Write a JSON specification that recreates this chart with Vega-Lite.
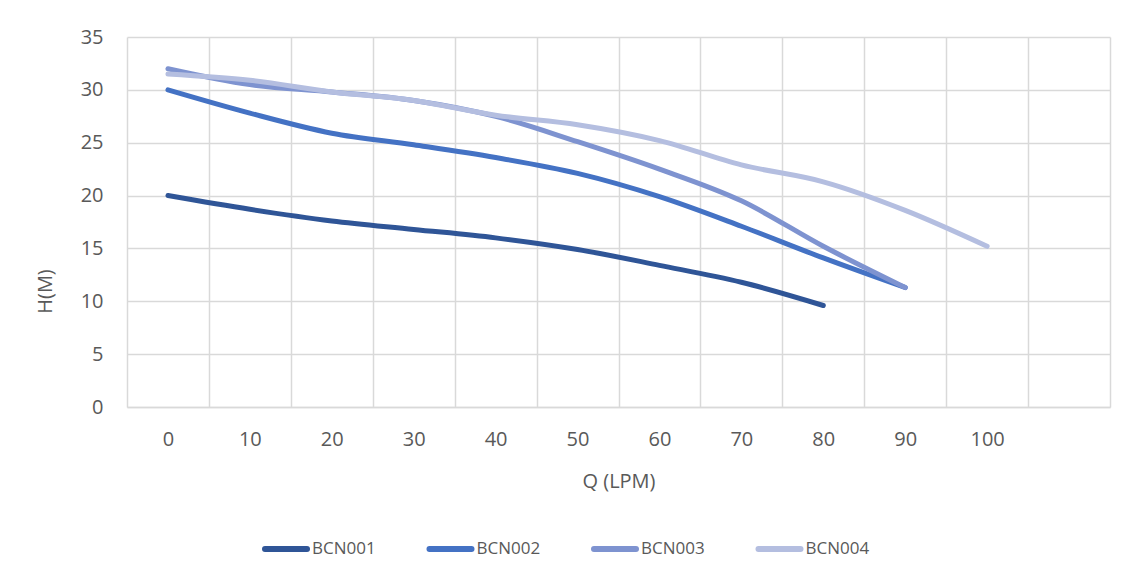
{
  "$schema": "https://vega.github.io/schema/vega-lite/v6.json",
  "autosize": {"type": "none"},
  "padding": {"left": 127, "top": 37, "right": 20, "bottom": 174},
  "width": 983,
  "height": 370,
  "background": "white",
  "config": {
    "font": "Open Sans",
    "view": {"stroke": null},
    "axis": {"labelColor": "#595959", "titleColor": "#595959", "gridColor": "#D9D9D9", "gridWidth": 1.5, "labelFont": "Open Sans", "titleFont": "Open Sans", "labelFontSize": 20, "titleFontSize": 20, "titleFontWeight": "normal"}
  },
  "data": {
    "values": [
      {"series": "BCN001", "Q": 0, "H": 20.0},
      {"series": "BCN001", "Q": 10, "H": 18.7},
      {"series": "BCN001", "Q": 20, "H": 17.6},
      {"series": "BCN001", "Q": 30, "H": 16.8},
      {"series": "BCN001", "Q": 40, "H": 16.0},
      {"series": "BCN001", "Q": 50, "H": 14.9},
      {"series": "BCN001", "Q": 60, "H": 13.4},
      {"series": "BCN001", "Q": 70, "H": 11.8},
      {"series": "BCN001", "Q": 80, "H": 9.6},
      {"series": "BCN002", "Q": 0, "H": 30.0},
      {"series": "BCN002", "Q": 10, "H": 27.8},
      {"series": "BCN002", "Q": 20, "H": 25.9},
      {"series": "BCN002", "Q": 30, "H": 24.8},
      {"series": "BCN002", "Q": 40, "H": 23.6},
      {"series": "BCN002", "Q": 50, "H": 22.1},
      {"series": "BCN002", "Q": 60, "H": 19.9},
      {"series": "BCN002", "Q": 70, "H": 17.1},
      {"series": "BCN002", "Q": 80, "H": 14.1},
      {"series": "BCN002", "Q": 90, "H": 11.3},
      {"series": "BCN003", "Q": 0, "H": 32.0},
      {"series": "BCN003", "Q": 10, "H": 30.5},
      {"series": "BCN003", "Q": 20, "H": 29.8},
      {"series": "BCN003", "Q": 30, "H": 29.0},
      {"series": "BCN003", "Q": 40, "H": 27.5},
      {"series": "BCN003", "Q": 50, "H": 25.1},
      {"series": "BCN003", "Q": 60, "H": 22.5},
      {"series": "BCN003", "Q": 70, "H": 19.5},
      {"series": "BCN003", "Q": 80, "H": 15.2},
      {"series": "BCN003", "Q": 90, "H": 11.3},
      {"series": "BCN004", "Q": 0, "H": 31.5},
      {"series": "BCN004", "Q": 10, "H": 30.9},
      {"series": "BCN004", "Q": 20, "H": 29.8},
      {"series": "BCN004", "Q": 30, "H": 29.0},
      {"series": "BCN004", "Q": 40, "H": 27.6},
      {"series": "BCN004", "Q": 50, "H": 26.7},
      {"series": "BCN004", "Q": 60, "H": 25.2},
      {"series": "BCN004", "Q": 70, "H": 22.9},
      {"series": "BCN004", "Q": 80, "H": 21.3},
      {"series": "BCN004", "Q": 90, "H": 18.6},
      {"series": "BCN004", "Q": 100, "H": 15.2}
    ]
  },
  "mark": {"type": "line", "strokeWidth": 5, "strokeCap": "round", "strokeJoin": "round", "interpolate": "monotone"},
  "encoding": {
    "x": {
      "field": "Q",
      "type": "ordinal",
      "scale": {"type": "band", "domain": [0, 10, 20, 30, 40, 50, 60, 70, 80, 90, 100, 110], "paddingInner": 0, "paddingOuter": 0},
      "axis": {
        "title": "Q (LPM)",
        "labelAngle": 0,
        "tickBand": "extent",
        "ticks": false,
        "tickSize": 0,
        "domain": true,
        "domainColor": "#D9D9D9",
        "domainWidth": 1.5,
        "grid": true,
        "labelBaseline": "alphabetic",
        "labelPadding": 38,
        "labelExpr": "datum.value == 110 ? '' : datum.label",
        "titleX": 491.5,
        "titleY": 80,
        "titleBaseline": "alphabetic",
        "titleAlign": "center"
      }
    },
    "y": {
      "field": "H",
      "type": "quantitative",
      "scale": {"domain": [0, 35], "nice": false, "zero": true},
      "axis": {
        "title": "H(M)",
        "values": [0, 5, 10, 15, 20, 25, 30, 35],
        "ticks": false,
        "tickSize": 0,
        "domain": false,
        "grid": true,
        "labelPadding": 24,
        "titleX": -82,
        "titleY": 254,
        "titleAngle": -90,
        "titleAlign": "center",
        "titleBaseline": "middle"
      }
    },
    "color": {
      "field": "series",
      "type": "nominal",
      "scale": {"domain": ["BCN001", "BCN002", "BCN003", "BCN004"], "range": ["#2F5597", "#4472C4", "#7E93D0", "#B4BEE0"]},
      "legend": {
        "title": null,
        "orient": "none",
        "direction": "horizontal",
        "columns": 4,
        "legendX": 135,
        "legendY": 488,
        "symbolType": "stroke",
        "symbolSize": 1764,
        "symbolStrokeWidth": 6,
        "symbolOffset": 0,
        "labelFont": "Open Sans",
        "labelFontSize": 17,
        "labelColor": "#595959",
        "labelOffset": 2,
        "columnPadding": 41.5,
        "encode": {"symbols": {"update": {"strokeCap": {"value": "round"}}}}
      }
    }
  }
}
